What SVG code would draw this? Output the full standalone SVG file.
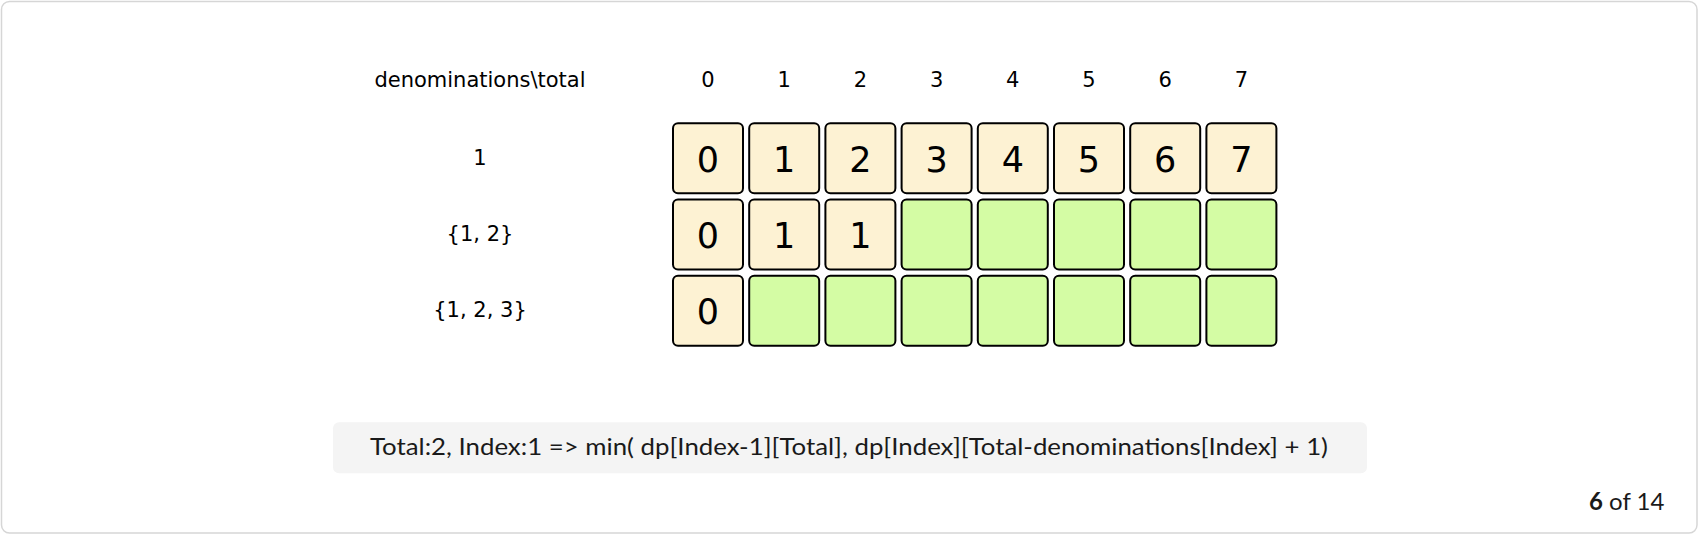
<svg xmlns="http://www.w3.org/2000/svg" width="1700" height="538" viewBox="0 0 1700 538">
<style>
.frame{fill:#ffffff;stroke:#d6d6d6;stroke-width:1.5}
.c{stroke:#000000;stroke-width:2}
.done{fill:#fdf2d3}
.todo{fill:#d4fca4}
.lbl{font-family:"DejaVu Sans",Verdana,sans-serif;font-size:21px;fill:#000000;text-anchor:middle}
.num{font-family:"DejaVu Sans",Verdana,sans-serif;font-size:35px;fill:#000000;text-anchor:middle}
.note{font-family:Lato,"Noto Sans",sans-serif;font-size:24px;fill:#1a1a1a;text-anchor:middle}
.pg{font-family:Lato,"Noto Sans",sans-serif;font-size:24px;fill:#1a1a1a}
</style>
<rect class="frame" x="1.5" y="1.5" width="1695.5" height="531.5" rx="8"/>
<g id="headers">
<text class="lbl" x="480" y="87">denominations\total</text>
<text class="lbl" x="708" y="87">0</text>
<text class="lbl" x="784.2" y="87">1</text>
<text class="lbl" x="860.4" y="87">2</text>
<text class="lbl" x="936.6" y="87">3</text>
<text class="lbl" x="1012.8" y="87">4</text>
<text class="lbl" x="1089" y="87">5</text>
<text class="lbl" x="1165.2" y="87">6</text>
<text class="lbl" x="1241.4" y="87">7</text>
</g>
<g id="row-labels">
<text class="lbl" x="480" y="165">1</text>
<text class="lbl" x="480" y="241">{1, 2}</text>
<text class="lbl" x="480" y="317">{1, 2, 3}</text>
</g>
<g id="row1">
<g id="r1c0"><rect class="c done" x="673" y="123.3" width="70" height="70" rx="5"/><text class="num" x="708" y="172">0</text></g>
<g id="r1c1"><rect class="c done" x="749.2" y="123.3" width="70" height="70" rx="5"/><text class="num" x="784.2" y="172">1</text></g>
<g id="r1c2"><rect class="c done" x="825.4" y="123.3" width="70" height="70" rx="5"/><text class="num" x="860.4" y="172">2</text></g>
<g id="r1c3"><rect class="c done" x="901.6" y="123.3" width="70" height="70" rx="5"/><text class="num" x="936.6" y="172">3</text></g>
<g id="r1c4"><rect class="c done" x="977.8" y="123.3" width="70" height="70" rx="5"/><text class="num" x="1012.8" y="172">4</text></g>
<g id="r1c5"><rect class="c done" x="1054" y="123.3" width="70" height="70" rx="5"/><text class="num" x="1089" y="172">5</text></g>
<g id="r1c6"><rect class="c done" x="1130.2" y="123.3" width="70" height="70" rx="5"/><text class="num" x="1165.2" y="172">6</text></g>
<g id="r1c7"><rect class="c done" x="1206.4" y="123.3" width="70" height="70" rx="5"/><text class="num" x="1241.4" y="172">7</text></g>
</g>
<g id="row2">
<g id="r2c0"><rect class="c done" x="673" y="199.5" width="70" height="70" rx="5"/><text class="num" x="708" y="248.2">0</text></g>
<g id="r2c1"><rect class="c done" x="749.2" y="199.5" width="70" height="70" rx="5"/><text class="num" x="784.2" y="248.2">1</text></g>
<g id="r2c2"><rect class="c done" x="825.4" y="199.5" width="70" height="70" rx="5"/><text class="num" x="860.4" y="248.2">1</text></g>
<g id="r2c3"><rect class="c todo" x="901.6" y="199.5" width="70" height="70" rx="5"/></g>
<g id="r2c4"><rect class="c todo" x="977.8" y="199.5" width="70" height="70" rx="5"/></g>
<g id="r2c5"><rect class="c todo" x="1054" y="199.5" width="70" height="70" rx="5"/></g>
<g id="r2c6"><rect class="c todo" x="1130.2" y="199.5" width="70" height="70" rx="5"/></g>
<g id="r2c7"><rect class="c todo" x="1206.4" y="199.5" width="70" height="70" rx="5"/></g>
</g>
<g id="row3">
<g id="r3c0"><rect class="c done" x="673" y="275.7" width="70" height="70" rx="5"/><text class="num" x="708" y="324.4">0</text></g>
<g id="r3c1"><rect class="c todo" x="749.2" y="275.7" width="70" height="70" rx="5"/></g>
<g id="r3c2"><rect class="c todo" x="825.4" y="275.7" width="70" height="70" rx="5"/></g>
<g id="r3c3"><rect class="c todo" x="901.6" y="275.7" width="70" height="70" rx="5"/></g>
<g id="r3c4"><rect class="c todo" x="977.8" y="275.7" width="70" height="70" rx="5"/></g>
<g id="r3c5"><rect class="c todo" x="1054" y="275.7" width="70" height="70" rx="5"/></g>
<g id="r3c6"><rect class="c todo" x="1130.2" y="275.7" width="70" height="70" rx="5"/></g>
<g id="r3c7"><rect class="c todo" x="1206.4" y="275.7" width="70" height="70" rx="5"/></g>
</g>
<g id="connectors"></g>
<g id="formula">
<rect x="333" y="422.3" width="1034" height="51" rx="6" fill="#f4f4f4"/>
<text class="note" x="849" y="455" textLength="958" lengthAdjust="spacingAndGlyphs">Total:2, Index:1 =&gt; min( dp[Index-1][Total], dp[Index][Total-denominations[Index] + 1)</text>
</g>
<g id="page">
<text class="pg" x="1589" y="510"><tspan font-weight="bold">6</tspan> of 14</text>
</g>
</svg>
